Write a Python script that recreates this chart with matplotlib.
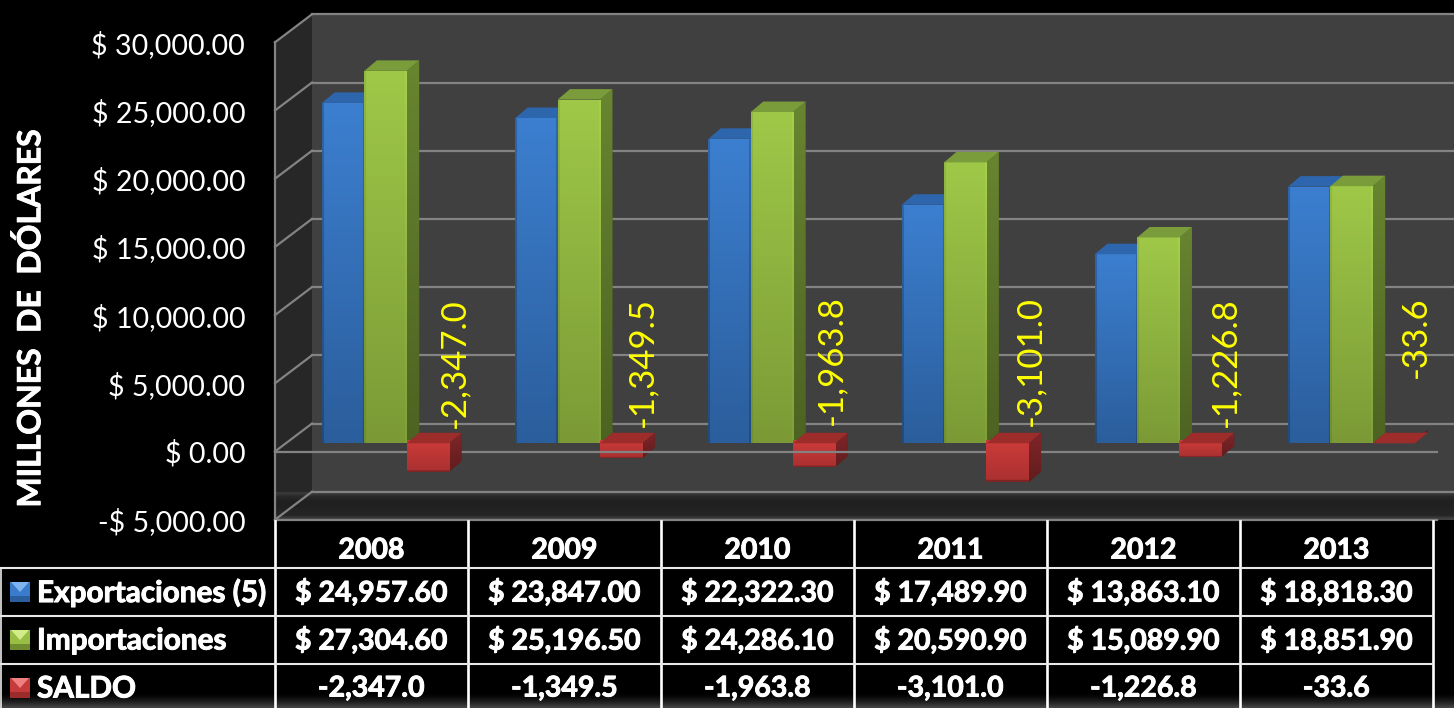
import numpy as np
import matplotlib
matplotlib.use("Agg")
import matplotlib.pyplot as plt
import matplotlib.patheffects as pe
from matplotlib.colors import to_rgb
from matplotlib.lines import Line2D
from matplotlib.patches import Polygon, Rectangle
from matplotlib.transforms import Affine2D

years = ["2008", "2009", "2010", "2011", "2012", "2013"]
exportaciones = [24957.60, 23847.00, 22322.30, 17489.90, 13863.10, 18818.30]
importaciones = [27304.60, 25196.50, 24286.10, 20590.90, 15089.90, 18851.90]
saldo = [-2347.0, -1349.5, -1963.8, -3101.0, -1226.8, -33.6]
y_ticks = [-5000, 0, 5000, 10000, 15000, 20000, 25000, 30000]
series_names = ["Exportaciones (5)", "Importaciones", "SALDO"]

W, H = 1454, 708
plt.rcParams["font.family"] = ["Lato", "DejaVu Sans"]
fig = plt.figure(figsize=(W / 100, H / 100), dpi=100, facecolor="black")
PX = Affine2D().scale(1, -1).translate(0, H)  # figure pixels, origin top-left

# axes = front plane of the 3-D box
AX_L, AX_R, AX_T, AX_B = 275, 1433, 42.3, 519.7
ax = fig.add_axes([AX_L / W, 1 - AX_B / H, (AX_R - AX_L) / W, (AX_B - AX_T) / H])
ax.set_xlim(-0.5, 5.5)
ax.set_ylim(-5000, 30000)
ax.autoscale(False)
ax.patch.set_alpha(0)
for s in ax.spines.values():
    s.set_visible(False)
pxx = 1 / 193.0
pxy = 5000 / 68.2

DX, DY = 37 * pxx, 28 * pxy  # box depth
LINE = "#838383"
LW = 1.6
x0, x1 = -0.5, 5.5 + 4 * pxx
FAR = x1 + 60 * pxx

# walls
ax.add_patch(Polygon([(x0 + DX, -5000 + DY), (FAR, -5000 + DY), (FAR, 30000 + DY), (x0 + DX, 30000 + DY)],
                     fc="#404040", ec="none", clip_on=False, zorder=1))
ax.add_patch(Polygon([(x0, -5000), (x0 + DX, -5000 + DY), (x0 + DX, 30000 + DY), (x0, 30000)],
                     fc="#272727", ec="none", clip_on=False, zorder=1.1))
floor = Polygon([(x0, -5000), (x0 + DX, -5000 + DY), (x1 + DX, -5000 + DY), (x1, -5000)],
                fc="#232323", ec="none", clip_on=False, zorder=1.2)
ax.add_patch(floor)
# floor shading, far edge first
fl = np.array([0.22, 0.16, 0.135, 0.13, 0.13, 0.135, 0.14, 0.15, 0.25])[:, None]
im = ax.imshow(fl, extent=(x0, x1 + DX, -5000, -5000 + DY), aspect="auto", cmap="gray", vmin=0, vmax=1,
               origin="upper", zorder=1.25, clip_on=False, interpolation="bilinear")
im.set_clip_path(floor)

# gridlines
for v in y_ticks:
    ax.add_line(Line2D([x0 + DX, FAR], [v + DY] * 2, color=LINE, lw=LW, zorder=2, clip_on=False))
    ax.add_line(Line2D([x0, x0 + DX], [v, v + DY], color=LINE, lw=LW, zorder=2, clip_on=False))
ax.add_line(Line2D([x0, x0], [-5000, 30000], color=LINE, lw=LW, zorder=2, clip_on=False))
ax.add_line(Line2D([x0, x1], [-5000, -5000], color=LINE, lw=LW, zorder=2.1, clip_on=False))
ax.add_line(Line2D([x0, x1], [0, 0], color=LINE, lw=LW, zorder=6, clip_on=False))


def shade(patch, ext, top, bottom, z, edge=None, edge_px=2):
    """Vertical gradient painted into a patch; edge = (left, right, bottom) multipliers."""
    t = np.linspace(0, 1, 60)[:, None, None]
    a = (1 - t) * np.array(to_rgb(top))[None, None, :] + t * np.array(to_rgb(bottom))[None, None, :]
    a = np.tile(a, (1, 42, 1))
    if edge:
        a[:, :edge_px] = np.clip(a[:, :edge_px] * edge[0], 0, 1)
        a[:, -edge_px:] = np.clip(a[:, -edge_px:] * edge[1], 0, 1)
        a[-3:, :] = np.clip(a[-3:, :] * edge[2], 0, 1)
    img = ax.imshow(a, extent=ext, aspect="auto", origin="upper", zorder=z, interpolation="bilinear")
    img.set_clip_path(patch)


BX, BY = 14 * pxx, 8.2 * pxy           # bars stand inside the box
STEP = 193.2 / 193.0                   # group spacing on the bar plane
BW = 42.3 * pxx                        # bar width
bdx, bdy = 12.5 * pxx, 10.5 * pxy      # bar depth
NEG_TRIM = 3.5 * pxy

STYLES = [
    dict(front=("#3C7FD0", "#2B5E9C"), top=("#2E66AE", "#2E66AE"), side=("#2C5F9E", "#234C80"), edge=(0.8, 0.82, 1.0)),
    dict(front=("#9FC848", "#7B9A36"), top=("#7A9C3A", "#789A38"), side=("#688530", "#4D6322"), edge=(0.92, 1.04, 1.0)),
    dict(front=("#CE3C3A", "#A93030"), top=("#9C2D2B", "#9C2D2B"), side=("#80262A", "#621C1C"), edge=(1.0, 1.0, 0.75)),
]
group_z = [8, 4, 4, 8, 8, 8]


def draw_bar(x, v, st, z):
    left = x - BW / 2
    right = x + BW / 2
    if v >= 0:
        base, end, level = BY, BY + v, BY + v
    else:
        base, end, level = BY + NEG_TRIM, BY + v + NEG_TRIM, BY
    # side
    sb = min(end, base)
    sd = Polygon([(right, level), (right + bdx, level + bdy), (right + bdx, sb + bdy), (right, sb)],
                 fc=st["side"][1], ec="none", zorder=z)
    ax.add_patch(sd)
    shade(sd, (right, right + bdx, sb, level + bdy), st["side"][0], st["side"][1], z + 0.01)
    # front
    r = ax.bar(x, end - base, width=BW, bottom=base, color=st["front"][1], linewidth=0, zorder=z + 0.1)[0]
    shade(r, (left, right, min(base, end), max(base, end)), st["front"][0], st["front"][1], z + 0.11, edge=st["edge"])
    # top
    tp = Polygon([(left, level), (left + bdx, level + bdy), (right + bdx, level + bdy), (right, level)],
                 fc=st["top"][0], ec="none", zorder=z + 0.2)
    ax.add_patch(tp)


for i, (e, m, b) in enumerate(zip(exportaciones, importaciones, saldo)):
    c = i * STEP + BX
    z = group_z[i]
    draw_bar(c - BW, e, STYLES[0], z)
    draw_bar(c, m, STYLES[1], z + 0.3)
    draw_bar(c + BW, b, STYLES[2], z + 0.6)

# data labels, anchored to each saldo bar
lab_dx = [15.5, 10.0, 5.5, 12.0, 13.0, 10.5]
lab_dy = [88, 90, 91, 91, 89, 114.5]
for i, b in enumerate(saldo):
    ax.annotate(f"{b:,.1f}", xy=(i * STEP + BX + BW * 1.5, 0), xytext=(lab_dx[i], lab_dy[i]),
                textcoords="offset pixels", rotation=90, rotation_mode="anchor",
                ha="center", va="baseline", color="#FFFF00", fontsize=25, zorder=12,
                annotation_clip=False)


# axis ticks
def money(v, d=2):
    return f"-$ {-v:,.{d}f}" if v < 0 else f"$ {v:,.{d}f}"


ax.set_xticks([])
ax.set_yticks(y_ticks)
ax.set_yticklabels([money(v) for v in y_ticks], fontsize=20.6, color="white")
ax.tick_params(axis="y", length=0, pad=21.5)
fig.text(30, 318, "MILLONES  DE  DÓLARES", transform=PX, rotation=90, ha="center", va="center",
         color="white", fontsize=23, fontweight="bold",
         path_effects=[pe.withStroke(linewidth=0.6, foreground="white")])

# table
col_x = [AX_L + 193 * i for i in range(7)]
row_y = [568, 616, 664]
for x in col_x:
    fig.add_artist(Line2D([x, x], [521, H], transform=PX, color="white", lw=1.9))
for y in row_y:
    fig.add_artist(Line2D([1, AX_R], [y, y], transform=PX, color="#E8E8E8", lw=1.5))
fig.add_artist(Line2D([1, 1], [568, H], transform=PX, color="#E8E8E8", lw=1.2))

thick = [pe.withStroke(linewidth=0.7, foreground="white")]
tb = dict(transform=PX, color="white", fontweight="bold", fontsize=20.5, ha="center", va="center",
          zorder=5, path_effects=thick)
for i, y in enumerate(years):
    cx = AX_L + 193 * (i + 0.5)
    fig.text(cx, 550.5, y, **tb)
    fig.text(cx, 592.5, money(exportaciones[i]), **tb)
    fig.text(cx, 640.5, money(importaciones[i]), **tb)
    fig.text(cx, 688.5, f"{saldo[i]:,.1f}", **tb)

sw_cols = [("#3A7BCB", "#2B5E9C", "#7DB4F0"), ("#98BE44", "#6F8C30", "#D3EC8A"), ("#C53A3A", "#9A2C2C", "#F08080")]
for name, yc, (a, b, hi) in zip(series_names, [591, 639, 687], sw_cols):
    fig.text(37, yc + 1.5, name, transform=PX, color="white", fontweight="bold", fontsize=21.4,
             ha="left", va="center", path_effects=thick)
    y0, y1 = yc - 9, yc + 11
    fig.add_artist(Rectangle((10, y0), 20, 20, transform=PX, fc=a, ec="none"))
    fig.add_artist(Rectangle((10, y1 - 6), 20, 6, transform=PX, fc=b, ec="none"))
    fig.add_artist(Polygon([(11, y0), (29, y0), (20, y0 + 10)], transform=PX, fc=hi, ec="none"))

# soft grey fade along the bottom edge
ov = fig.add_axes([0, 0, 1, 16 / H], zorder=-1)
ov.axis("off")
ov.imshow(np.linspace(0, 0.33, 16)[:, None] ** 1.6 * 1.6, aspect="auto", cmap="gray", vmin=0, vmax=1,
          extent=(0, 1, 0, 1), origin="upper", interpolation="bilinear")

ax.set_xlim(-0.5, 5.5)
ax.set_ylim(-5000, 30000)
fig.savefig("out.png", dpi=100, facecolor="black")
